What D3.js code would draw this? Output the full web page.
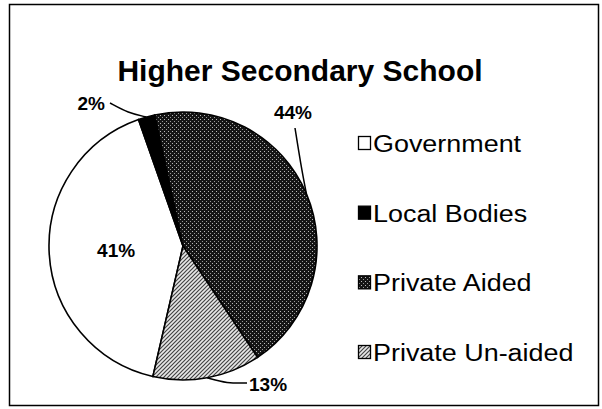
<!DOCTYPE html>
<html><head><meta charset="utf-8">
<script src="https://cdn.jsdelivr.net/npm/d3@7"></script>
<style>body{margin:0;background:#fff}</style>
</head><body>
<svg id="chart" width="602" height="409"></svg>
<script>
const title = "Higher Secondary School";
const categories = ["Government", "Local Bodies", "Private Aided", "Private Un-aided"];
const values = [41, 2, 44, 13];
const labels = ["41%", "2%", "44%", "13%"];

const svg = d3.select("#chart");
const defs = svg.append("defs");

// dark dotted pattern (Private Aided)
const p1 = defs.append("pattern").attr("id", "pAided").attr("width", 4).attr("height", 4).attr("patternUnits", "userSpaceOnUse");
p1.append("rect").attr("width", 4).attr("height", 4).attr("fill", "#151515");
p1.append("rect").attr("x", 1).attr("y", 1).attr("width", 1).attr("height", 1).attr("fill", "#bbb");
p1.append("rect").attr("x", 3).attr("y", 3).attr("width", 1).attr("height", 1).attr("fill", "#999");
// lighter pattern (Private Un-aided)
const p2 = defs.append("pattern").attr("id", "pUnaided").attr("width", 4).attr("height", 4).attr("patternUnits", "userSpaceOnUse");
p2.append("rect").attr("width", 4).attr("height", 4).attr("fill", "#e8e8e8");
p2.append("path").attr("d", "M0,4 L4,0 M-1,1 L1,-1 M3,5 L5,3").attr("stroke", "#444").attr("stroke-width", 1.2);

const fills = ["#fff", "#000", "url(#pAided)", "url(#pUnaided)"];
const color = d3.scaleOrdinal().domain(categories).range(fills);
const font = "Liberation Sans, Arial, sans-serif";

// frame
svg.append("rect").attr("x", 9.5).attr("y", 4.5).attr("width", 589).attr("height", 401)
  .attr("fill", "none").attr("stroke", "#000").attr("stroke-width", 1.5);

svg.append("text").attr("x", 300).attr("y", 81).attr("text-anchor", "middle")
  .attr("font-family", font).attr("font-weight", "bold")
  .attr("font-size", 30).text(title);

const cx = 183, cy = 246, r = 134;
const start = 193 * Math.PI / 180;
const pie = d3.pie().sort(null).startAngle(start).endAngle(start + 2 * Math.PI);
const arcs = pie(values);
const arc = d3.arc().innerRadius(0).outerRadius(r);
const g = svg.append("g").attr("transform", `translate(${cx},${cy})`);
g.selectAll("path.slice").data(arcs).join("path").attr("class", "slice")
  .attr("d", arc).attr("fill", (d, i) => color(categories[i]))
  .attr("stroke", "#000").attr("stroke-width", 1.6);

const pt = (a, rr) => [Math.sin(a) * rr, -Math.cos(a) * rr];
const mid = d => (d.startAngle + d.endAngle) / 2;
const labelLayout = [
  {inside: true, rr: 0.5},
  {lx: -78, ly: -136, anchor: "end", ex: -73, ey: -143},
  {lx: 110, ly: -127, anchor: "middle", ex: 112, ey: -118},
  {lx: 66, ly: 145, anchor: "start", ex: 64, ey: 137}
];
arcs.forEach((d, i) => {
  const L = labelLayout[i];
  if (L.inside) {
    const [x, y] = pt(mid(d), r * L.rr);
    g.append("text").attr("x", x).attr("y", y + 7).attr("text-anchor", "middle")
      .attr("font-family", font).attr("font-weight", "bold").attr("font-size", 19).text(labels[i]);
  } else {
    const [sx, sy] = pt(mid(d), r);
    g.append("path").attr("d", d3.line().curve(d3.curveBasis)([[sx, sy], [(sx + L.ex) / 2, (sy + L.ey) / 2 + 3], [L.ex, L.ey]]))
      .attr("fill", "none").attr("stroke", "#000").attr("stroke-width", 1.5);
    g.append("text").attr("x", L.lx).attr("y", L.ly).attr("text-anchor", L.anchor)
      .attr("font-family", font).attr("font-weight", "bold").attr("font-size", 19).text(labels[i]);
  }
});

// legend
const legend = svg.append("g");
const ly = d3.scalePoint().domain(categories).range([152, 361]);
categories.forEach((c, i) => {
  const y = ly(c);
  legend.append("rect").attr("x", 358.5).attr("y", y - 15.5).attr("width", 12).attr("height", 13)
    .attr("fill", color(c)).attr("stroke", "#000").attr("stroke-width", 1.3);
  const t = legend.append("text").attr("x", 373).attr("y", y).attr("font-family", font)
    .attr("font-size", 23).text(c);
  const w = t.node().getComputedTextLength();
  t.attr("textLength", w * 1.17).attr("lengthAdjust", "spacingAndGlyphs");
});
</script>
</body></html>
